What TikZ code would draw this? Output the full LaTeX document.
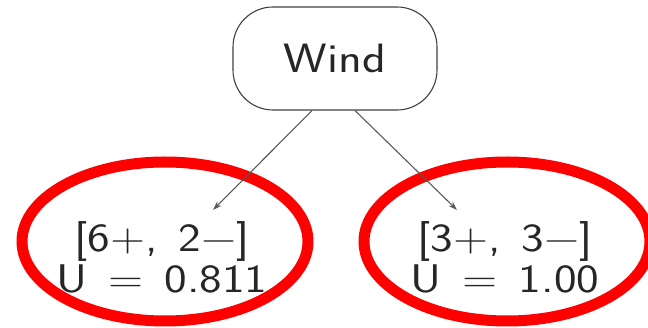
\documentclass[tikz,border=0pt]{standalone}
\usepackage{fontspec}
\setsansfont[FakeStretch=1.2,WordSpace=1.4]{Latin Modern Sans}
\usetikzlibrary{shapes.geometric,arrows.meta}
\begin{document}
\begin{tikzpicture}[x=1pt,y=-1pt,
  treenode/.style={draw=black!75, line width=1.1pt, rounded corners=40pt,
    minimum width=204pt, minimum height=103pt, inner sep=0,
    font=\sffamily\fontsize{41}{41}\selectfont, text=black!85},
  ring/.style={ellipse, draw=red, line width=11pt, minimum width=286pt,
    minimum height=159pt, inner sep=0},
  leaf/.style={align=center, inner sep=0, text=black!85,
    font=\sffamily\fontsize{40}{41}\selectfont},
  link/.style={-{Stealth[length=9pt,width=6pt]}, draw=black!65, line width=1.1pt}]
\useasboundingbox (0,0) rectangle (648,328);
\node[ring] (lring) at (165,241.5) {};
\node[ring] (rring) at (507,241.5) {};
\node[treenode] (wind) at (335,58.5) {Wind};
\node[leaf] (lleaf) at (162,257.5) {[6+, 2−]\\U = 0.811};
\node[leaf] (rleaf) at (505,257.5) {[3+, 3−]\\U = 1.00};
\coordinate (ltip) at (213,210);
\coordinate (rtip) at (457,210);
\draw[link] ([xshift=-23pt]wind.south) -- (ltip);
\draw[link] ([xshift=20pt]wind.south) -- (rtip);
\end{tikzpicture}
\end{document}
